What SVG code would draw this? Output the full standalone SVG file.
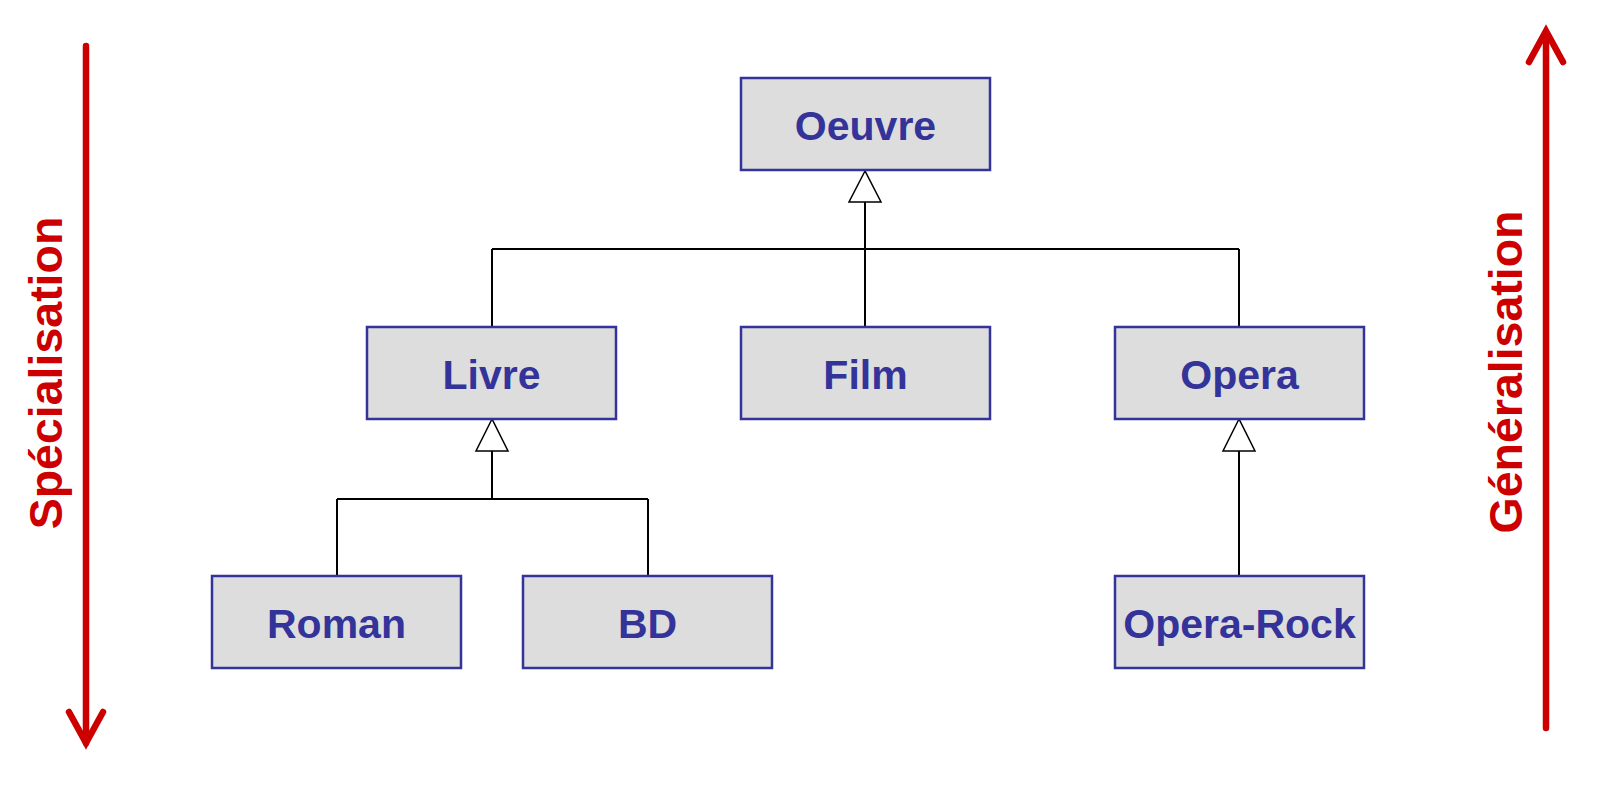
<svg xmlns="http://www.w3.org/2000/svg" width="1616" height="802" viewBox="0 0 1616 802">
<style>
.box{fill:#dddddd;stroke:#333399;stroke-width:2.5}
.lbl{font-family:"Liberation Sans",Arial,sans-serif;font-weight:bold;font-size:41px;fill:#333399;text-anchor:middle}
.side{font-family:"Liberation Sans",Arial,sans-serif;font-weight:bold;font-size:46.5px;fill:#cc0000;text-anchor:middle}
.con{stroke:#000;stroke-width:2;fill:none}
.tri{fill:#fff;stroke:#000;stroke-width:1.5}
.red{stroke:#cc0000;stroke-width:6.5;fill:none;stroke-linecap:round;stroke-linejoin:miter}
</style>
<rect width="1616" height="802" fill="#fff"/>
<g id="connectors">
<path class="con" d="M865 202V327M492 249H1239M492 249V327M1239 249V327"/>
<path class="con" d="M492 451V499M337 499H648M337 499V576M648 499V576"/>
<path class="con" d="M1239 451V576"/>
<polygon class="tri" points="865,171 849,202 881,202"/>
<polygon class="tri" points="492,419 476,451 508,451"/>
<polygon class="tri" points="1239,419 1223,451 1255,451"/>
</g>
<g id="oeuvre"><rect class="box" x="741" y="78" width="249" height="92"/><text class="lbl" x="865.5" y="140">Oeuvre</text></g>
<g id="livre"><rect class="box" x="367" y="327" width="249" height="92"/><text class="lbl" x="491.5" y="389">Livre</text></g>
<g id="film"><rect class="box" x="741" y="327" width="249" height="92"/><text class="lbl" x="865.5" y="389">Film</text></g>
<g id="opera"><rect class="box" x="1115" y="327" width="249" height="92"/><text class="lbl" x="1239.5" y="389">Opera</text></g>
<g id="roman"><rect class="box" x="212" y="576" width="249" height="92"/><text class="lbl" x="336.5" y="638">Roman</text></g>
<g id="bd"><rect class="box" x="523" y="576" width="249" height="92"/><text class="lbl" x="647.5" y="638">BD</text></g>
<g id="opera-rock"><rect class="box" x="1115" y="576" width="249" height="92"/><text class="lbl" x="1239.5" y="638">Opera-Rock</text></g>
<g id="specialisation">
<path class="red" d="M86 46V743" stroke-linecap="butt"/>
<path class="red" d="M69 712L86 743L103 712"/>
<text class="side" transform="translate(62,373) rotate(-90)">Spécialisation</text>
</g>
<g id="generalisation">
<path class="red" d="M1546 34V728" stroke-linecap="butt"/>
<path class="red" d="M1529 62L1546 31L1563 62"/>
<text class="side" transform="translate(1522,372) rotate(-90)">Généralisation</text>
</g>
</svg>
